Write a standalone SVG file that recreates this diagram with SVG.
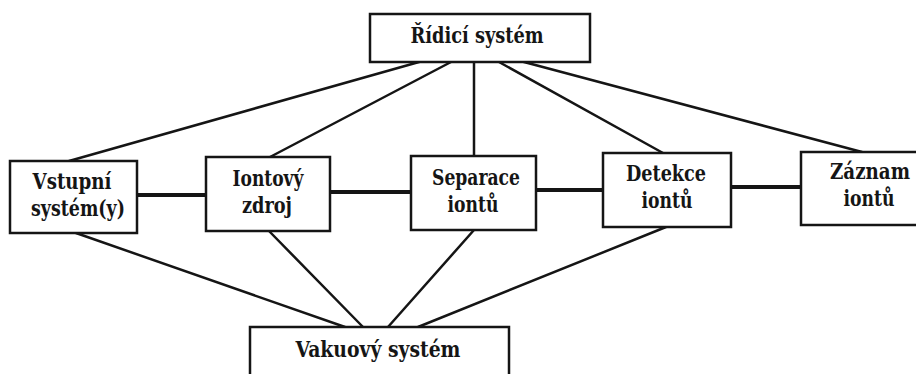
<svg xmlns="http://www.w3.org/2000/svg" width="916" height="374" viewBox="0 0 916 374">
<style>
.box{fill:#fff;stroke:#151515;stroke-width:2.5}
.t{font-family:'DejaVu Serif Condensed','DejaVu Serif',serif;font-weight:700;font-size:22px;fill:#151515;text-anchor:middle}
.c line{stroke:#151515;stroke-width:2.5;stroke-linecap:round}
.c line.h{stroke-width:4}
</style>
<rect width="916" height="374" fill="#fff"/>
<g class="c" id="connectors">
<line x1="419" y1="62" x2="69" y2="161"/>
<line x1="451" y1="62" x2="270" y2="157"/>
<line x1="474" y1="62" x2="474" y2="156"/>
<line x1="499" y1="62" x2="663" y2="153"/>
<line x1="524" y1="62" x2="862" y2="152"/>
<line class="h" x1="137" y1="195" x2="206" y2="195"/>
<line class="h" x1="330" y1="192" x2="411" y2="192"/>
<line class="h" x1="536" y1="190" x2="603" y2="190"/>
<line class="h" x1="731" y1="187" x2="800" y2="187"/>
<line x1="76" y1="233" x2="345" y2="327"/>
<line x1="269" y1="231" x2="363" y2="327"/>
<line x1="474" y1="230" x2="388" y2="327"/>
<line x1="666" y1="227" x2="418" y2="327"/>
</g>
<g id="ridici">
<rect class="box" x="370" y="14" width="220" height="48"/>
<text class="t" x="477" y="43" textLength="133" lengthAdjust="spacingAndGlyphs">Řídicí systém</text>
</g>
<g id="vstupni">
<rect class="box" x="10" y="161" width="127" height="72"/>
<text class="t" x="72" y="189" textLength="79" lengthAdjust="spacingAndGlyphs">Vstupní</text>
<text class="t" x="78" y="216" textLength="94" lengthAdjust="spacingAndGlyphs">systém(y)</text>
</g>
<g id="iontovy">
<rect class="box" x="206" y="157" width="124" height="74"/>
<text class="t" x="268" y="186" textLength="71" lengthAdjust="spacingAndGlyphs">Iontový</text>
<text class="t" x="267" y="213" textLength="50" lengthAdjust="spacingAndGlyphs">zdroj</text>
</g>
<g id="separace">
<rect class="box" x="411" y="156" width="125" height="74"/>
<text class="t" x="476" y="185" textLength="88" lengthAdjust="spacingAndGlyphs">Separace</text>
<text class="t" x="473" y="212" textLength="51" lengthAdjust="spacingAndGlyphs">iontů</text>
</g>
<g id="detekce">
<rect class="box" x="603" y="153" width="128" height="74"/>
<text class="t" x="666" y="181" textLength="80" lengthAdjust="spacingAndGlyphs">Detekce</text>
<text class="t" x="667" y="208" textLength="51" lengthAdjust="spacingAndGlyphs">iontů</text>
</g>
<g id="zaznam">
<rect class="box" x="801" y="152" width="140" height="73"/>
<text class="t" x="870" y="179" textLength="80" lengthAdjust="spacingAndGlyphs">Záznam</text>
<text class="t" x="869" y="206" textLength="51" lengthAdjust="spacingAndGlyphs">iontů</text>
</g>
<g id="vakuovy">
<rect class="box" x="250" y="327" width="259" height="60"/>
<text class="t" x="378" y="357" textLength="165" lengthAdjust="spacingAndGlyphs">Vakuový systém</text>
</g>
</svg>
